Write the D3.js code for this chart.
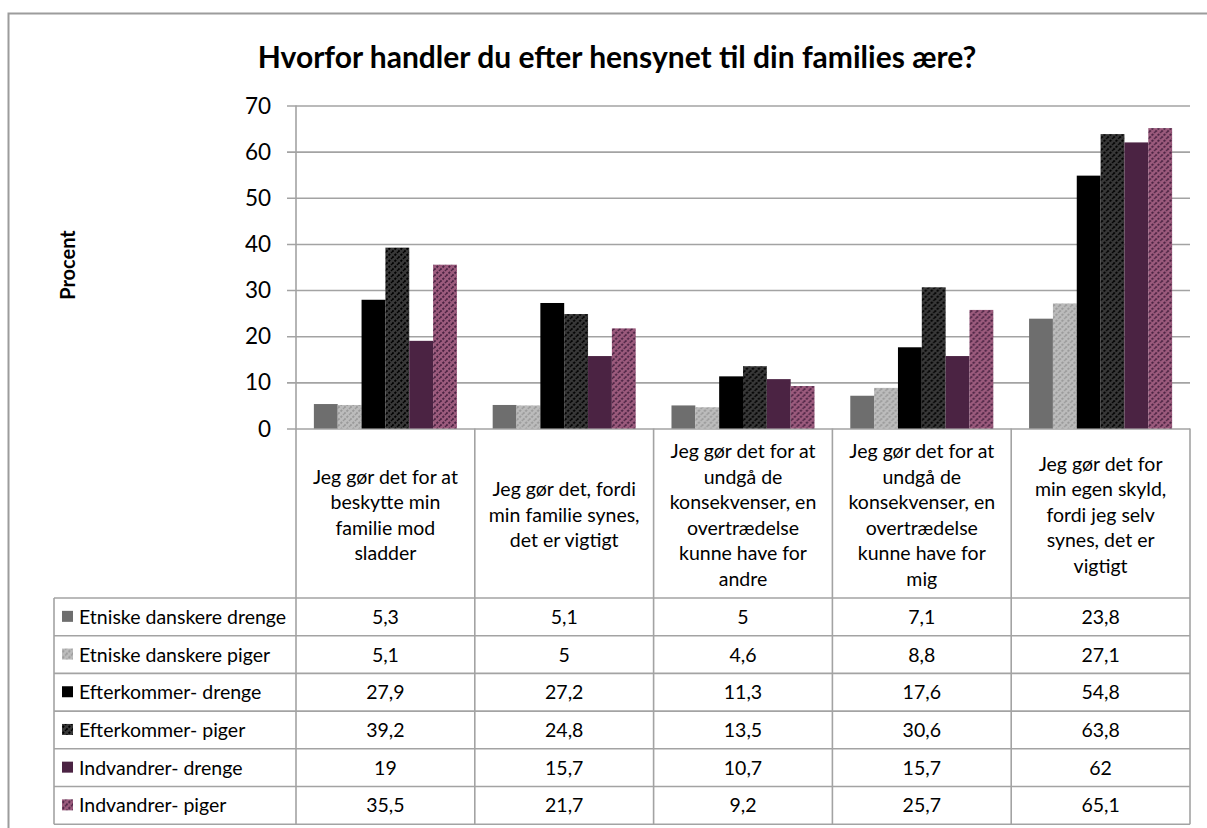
<!DOCTYPE html>
<html>
<head>
<meta charset="utf-8">
<script src="https://cdn.jsdelivr.net/npm/d3@7"></script>
<style>
  html, body { margin: 0; padding: 0; background: #fff; }
  svg { display: block; font-family: Lato, "Open Sans", sans-serif; }
</style>
</head>
<body>
<svg id="chart" width="1207" height="828"></svg>
<script>
// Survey answers: reasons for acting with regard to the family's honour
const title = "Hvorfor handler du efter hensynet til din families ære?";
const yLabel = "Procent";

const categories = [
  "Jeg gør det for at beskytte min familie mod sladder",
  "Jeg gør det, fordi min familie synes, det er vigtigt",
  "Jeg gør det for at undgå de konsekvenser, en overtrædelse kunne have for andre",
  "Jeg gør det for at undgå de konsekvenser, en overtrædelse kunne have for mig",
  "Jeg gør det for min egen skyld, fordi jeg selv synes, det er vigtigt"
];
// Line breaks used inside the category cells of the data table
const categoryLines = [
  ["Jeg gør det for at", "beskytte min", "familie mod", "sladder"],
  ["Jeg gør det, fordi", "min familie synes,", "det er vigtigt"],
  ["Jeg gør det for at", "undgå de", "konsekvenser, en", "overtrædelse", "kunne have for", "andre"],
  ["Jeg gør det for at", "undgå de", "konsekvenser, en", "overtrædelse", "kunne have for", "mig"],
  ["Jeg gør det for", "min egen skyld,", "fordi jeg selv", "synes, det er", "vigtigt"]
];

const seriesNames = [
  "Etniske danskere drenge",
  "Etniske danskere piger",
  "Efterkommer- drenge",
  "Efterkommer- piger",
  "Indvandrer- drenge",
  "Indvandrer- piger"
];
const etniskeDrenge     = [5.3, 5.1, 5, 7.1, 23.8];
const etniskePiger      = [5.1, 5, 4.6, 8.8, 27.1];
const efterkommerDrenge = [27.9, 27.2, 11.3, 17.6, 54.8];
const efterkommerPiger  = [39.2, 24.8, 13.5, 30.6, 63.8];
const indvandrerDrenge  = [19, 15.7, 10.7, 15.7, 62];
const indvandrerPiger   = [35.5, 21.7, 9.2, 25.7, 65.1];
const seriesValues = [etniskeDrenge, etniskePiger, efterkommerDrenge, efterkommerPiger, indvandrerDrenge, indvandrerPiger];

const yTicks = [0, 10, 20, 30, 40, 50, 60, 70];

// Fill styles: solid or base colour with dashed diagonal hatching
const fills = [
  { base: "#6e6e6e" },
  { base: "#bcbcbc", hatch: "#9a9a9a" },
  { base: "#000000" },
  { base: "#383838", hatch: "#000000" },
  { base: "#4b2343" },
  { base: "#9c5b7d", hatch: "#4b2343" }
];

const svg = d3.select("#chart");
const defs = svg.append("defs");
fills.forEach((f, i) => {
  if (!f.hatch) { f.paint = f.base; return; }
  const p = defs.append("pattern")
    .attr("id", "hatch" + i)
    .attr("patternUnits", "userSpaceOnUse")
    .attr("width", 6).attr("height", 6);
  p.append("rect").attr("width", 6).attr("height", 6).attr("fill", f.base);
  p.append("path")
    .attr("d", "M-1.5,1.5 L1.5,-1.5 M0,6 L6,0 M4.5,7.5 L7.5,4.5")
    .attr("stroke", f.hatch)
    .attr("stroke-width", 1.9)
    .attr("stroke-dasharray", "2.2 1.4");
  f.paint = "url(#hatch" + i + ")";
});

// Frame
const gridColor = "#a3a3a3";
svg.append("path")
  .attr("d", "M8.5,828 L8.5,13.5 L1207,13.5")
  .attr("fill", "none").attr("stroke", "#9c9c9c").attr("stroke-width", 2);

// Layout
const plotLeft = 296, plotRight = 1190, plotTop = 105.5, plotBottom = 428.5;
const tableLeft = 54, catBottom = 598, rowH = 37.7;
const tableFont = 19.5;

const x0 = d3.scaleBand().domain(categories).range([plotLeft, plotRight]).padding(0);
const x1 = d3.scaleBand().domain(seriesNames).range([0, x0.bandwidth()])
  .paddingInner(0).paddingOuter(0.75);
const y = d3.scaleLinear().domain([0, 70]).range([plotBottom, plotTop]);

// Title
svg.append("text")
  .attr("x", 617).attr("y", 68)
  .attr("text-anchor", "middle")
  .attr("font-weight", "bold")
  .attr("font-size", 30)
  .attr("fill", "#000")
  .text(title);

// Y axis label
svg.append("text")
  .attr("transform", "translate(75,265) rotate(-90)")
  .attr("text-anchor", "middle")
  .attr("font-weight", "bold")
  .attr("font-size", 20)
  .text(yLabel);

// Gridlines with tick stubs
const yAxis = d3.axisLeft(y).tickValues(yTicks)
  .tickSize(-(plotRight - plotLeft) - 9).tickPadding(0).tickFormat(d3.format("d"));
const gy = svg.append("g").attr("transform", `translate(${plotRight},0)`).call(yAxis);
gy.select(".domain").remove();
gy.selectAll(".tick line")
  .attr("x1", 0).attr("x2", -(plotRight - plotLeft) - 9)
  .attr("stroke", gridColor).attr("stroke-width", 1.6);
gy.selectAll(".tick text").remove();

// Tick labels
svg.append("g").selectAll("text")
  .data(yTicks).join("text")
  .attr("x", 271).attr("y", d => y(d))
  .attr("dy", "0.36em")
  .attr("text-anchor", "end")
  .attr("font-size", 22.5)
  .attr("fill", "#000")
  .text(d => d);

// Bars
const groups = svg.append("g").selectAll("g")
  .data(categories).join("g")
  .attr("transform", d => `translate(${x0(d)},0)`);
groups.selectAll("rect")
  .data((c, ci) => seriesNames.map((s, si) => ({ s, si, v: seriesValues[si][ci] })))
  .join("rect")
  .attr("x", d => x1(d.s))
  .attr("y", d => y(d.v))
  .attr("width", x1.bandwidth())
  .attr("height", d => y(0) - y(d.v))
  .attr("fill", d => fills[d.si].paint);

// Data table grid
const tableBottom = catBottom + rowH * seriesNames.length;
const lines = svg.append("g").attr("stroke", gridColor).attr("stroke-width", 1.6).attr("fill", "none");
// value axis line through the table
lines.append("line").attr("x1", plotLeft).attr("x2", plotLeft).attr("y1", plotTop).attr("y2", tableBottom);
// column separators
x0.domain().forEach((c, i) => {
  const xr = x0(c) + x0.bandwidth();
  lines.append("line").attr("x1", xr).attr("x2", xr).attr("y1", plotBottom).attr("y2", tableBottom);
});
// row separators
d3.range(seriesNames.length + 1).forEach(r => {
  const yy = catBottom + r * rowH;
  lines.append("line").attr("x1", tableLeft).attr("x2", plotRight).attr("y1", yy).attr("y2", yy);
});
lines.append("line").attr("x1", tableLeft).attr("x2", tableLeft).attr("y1", catBottom).attr("y2", tableBottom);

// Category labels
const catText = svg.append("g").attr("font-size", tableFont).attr("text-anchor", "middle").attr("fill", "#000");
categories.forEach((c, i) => {
  const ls = categoryLines[i];
  const lh = 25.5;
  const cx = x0(c) + x0.bandwidth() / 2;
  const top = 515 - (ls.length - 1) * lh / 2;
  const t = catText.append("text").attr("x", cx);
  ls.forEach((l, j) => {
    t.append("tspan").attr("x", cx).attr("y", top + j * lh).attr("dy", "0.35em").text(l);
  });
});

// Legend cells and values
const fmt = v => String(v).replace(".", ",");
const rows = svg.append("g").selectAll("g")
  .data(seriesNames).join("g")
  .attr("transform", (d, i) => `translate(0,${catBottom + i * rowH + rowH / 2})`);
rows.append("rect")
  .attr("x", 62).attr("y", -6).attr("width", 11).attr("height", 11)
  .attr("fill", (d, i) => fills[i].paint);
rows.append("text")
  .attr("x", 79).attr("dy", "0.36em")
  .attr("font-size", tableFont)
  .text(d => d);
rows.each(function(s, si) {
  d3.select(this).selectAll("text.val")
    .data(categories).join("text")
    .attr("class", "val")
    .attr("x", c => x0(c) + x0.bandwidth() / 2)
    .attr("dy", "0.36em")
    .attr("text-anchor", "middle")
    .attr("font-size", tableFont)
    .text((c, ci) => fmt(seriesValues[si][ci]));
});
</script>
</body>
</html>
